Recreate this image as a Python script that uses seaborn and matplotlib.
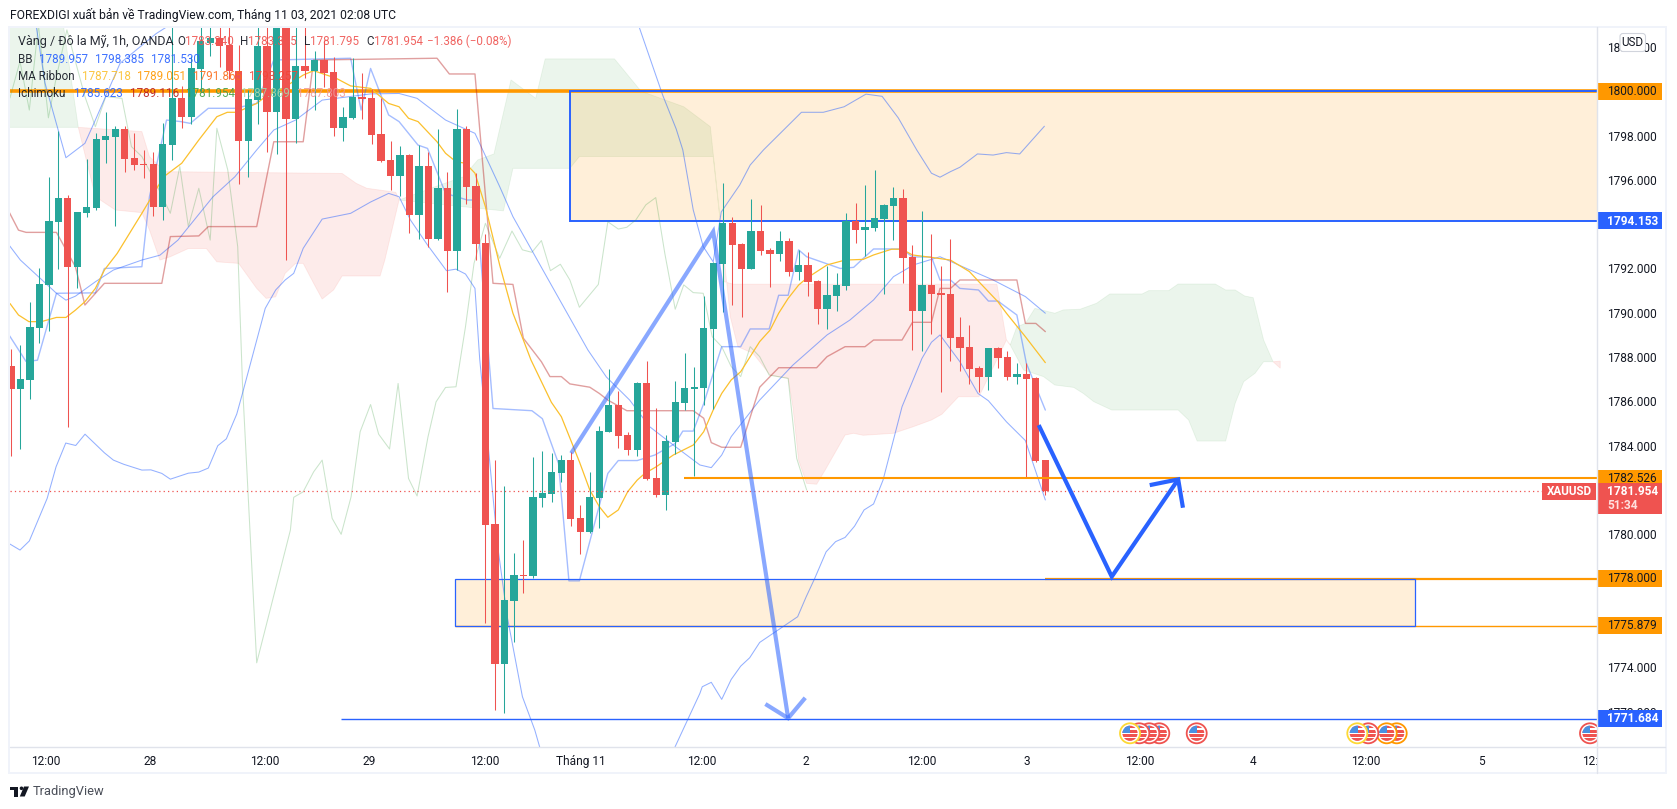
import numpy as np
import pandas as pd
import matplotlib
matplotlib.use('Agg')
import matplotlib.pyplot as plt
from matplotlib.patches import Rectangle, Circle, FancyBboxPatch, Polygon
from matplotlib.transforms import Bbox
import seaborn as sns

# candles, one row per 1h bar
opens = [1787.59,1786.56,1786.96,1789.31,1791.25,1794.10,1795.18,1792.06,1794.50,1794.73,
         1797.80,1797.93,1798.30,1796.99,1796.72,1796.72,1794.77,1797.57,1799.70,1798.84,
         1801.00,1802.19,1802.40,1802.09,1800.91,1797.75,1799.60,1802.04,1799.06,1803.80,
         1798.75,1801.14,1800.91,1801.41,1800.87,1798.34,1798.79,1799.74,1799.70,1798.07,
         1796.90,1796.17,1797.12,1794.41,1796.63,1793.33,1795.63,1792.79,1798.30,1795.72,
         1793.15,1780.47,1774.16,1776.99,1778.18,1778.12,1781.64,1781.82,1782.77,1783.36,
         1780.74,1780.10,1781.64,1784.62,1785.84,1784.48,1783.81,1786.83,1782.54,1781.77,
         1784.17,1785.93,1786.56,1786.60,1789.27,1792.20,1794.05,1793.11,1791.98,1793.69,
         1792.84,1792.66,1793.24,1791.84,1792.16,1791.44,1790.17,1790.76,1791.21,1794.14,
         1793.74,1793.83,1794.23,1794.82,1795.18,1792.52,1790.08,1791.26,1790.89,1790.85,
         1788.91,1788.46,1787.51,1787.10,1788.41,1788.00,1787.10,1787.24,1787.06,1783.35]
highs = [1788.36,1788.54,1790.48,1792.02,1796.13,1798.20,1795.32,1794.55,1796.94,1798.12,
         1799.06,1798.43,1798.43,1798.12,1797.35,1797.26,1798.57,1803.50,1800.24,1801.60,
         1803.50,1803.50,1803.50,1803.50,1802.10,1800.05,1803.50,1803.50,1804.50,1804.50,
         1803.20,1803.20,1801.82,1802.30,1801.55,1799.29,1801.50,1800.82,1800.10,1799.70,
         1797.75,1797.53,1797.15,1797.57,1797.26,1798.30,1796.35,1799.20,1798.43,1796.31,
         1793.55,1783.36,1782.18,1779.16,1779.74,1783.49,1783.76,1783.67,1783.58,1783.73,
         1781.32,1782.81,1784.89,1787.46,1786.47,1784.63,1786.86,1787.82,1785.70,1784.48,
         1786.92,1788.19,1787.55,1790.76,1792.28,1795.86,1794.33,1793.14,1795.14,1794.87,
         1792.93,1793.69,1793.38,1792.84,1792.75,1791.46,1792.11,1791.80,1794.50,1794.96,
         1795.77,1796.45,1794.92,1795.68,1795.59,1793.06,1794.60,1793.56,1792.11,1793.33,
         1789.81,1789.45,1787.60,1788.43,1788.46,1788.28,1787.73,1787.73,1787.08,1783.37]
lows = [1783.55,1783.85,1786.10,1788.63,1789.17,1791.97,1784.84,1791.12,1794.32,1794.64,
        1796.76,1793.92,1796.35,1796.45,1796.08,1794.37,1794.19,1796.90,1798.34,1798.52,
        1800.00,1801.60,1801.10,1800.55,1795.81,1796.13,1798.52,1797.26,1797.17,1792.38,
        1797.66,1800.60,1799.15,1800.20,1797.98,1797.75,1798.75,1798.75,1797.62,1796.80,
        1795.54,1795.27,1793.60,1793.33,1792.97,1793.28,1790.94,1791.93,1794.91,1792.40,
        1776.01,1772.07,1771.95,1775.15,1777.35,1778.01,1781.23,1781.46,1782.36,1780.38,
        1779.11,1780.06,1780.29,1784.60,1783.90,1783.58,1783.53,1782.45,1781.70,1781.10,
        1783.63,1785.61,1782.63,1785.84,1785.66,1790.04,1790.35,1789.81,1791.96,1792.61,
        1791.16,1792.34,1791.66,1791.48,1790.76,1789.49,1789.27,1790.08,1791.03,1793.15,
        1792.56,1793.69,1790.85,1793.29,1791.35,1788.32,1788.28,1789.04,1786.43,1787.82,
        1787.37,1786.79,1786.43,1786.51,1787.51,1786.97,1786.79,1782.56,1783.26,1781.79]
closes = [1786.56,1787.01,1789.36,1791.30,1794.14,1795.18,1792.06,1794.55,1794.77,1797.84,
          1797.98,1798.30,1796.94,1796.67,1796.67,1794.77,1797.62,1799.70,1798.84,1801.05,
          1802.28,1802.40,1802.04,1800.90,1797.75,1799.65,1802.04,1799.06,1803.80,1798.75,
          1801.14,1800.91,1801.41,1800.82,1798.34,1798.84,1799.74,1799.65,1798.02,1796.85,
          1796.17,1797.12,1794.41,1796.63,1793.33,1795.63,1792.79,1798.30,1795.68,1793.10,
          1780.42,1774.16,1777.03,1778.16,1778.13,1781.69,1781.85,1782.81,1783.36,1780.69,
          1780.10,1781.69,1784.66,1785.84,1784.44,1783.81,1786.83,1782.50,1781.77,1784.21,
          1785.97,1786.60,1786.65,1789.31,1792.25,1794.05,1793.06,1791.98,1793.69,1792.79,
          1792.66,1793.24,1791.84,1792.16,1791.39,1790.17,1790.80,1791.26,1794.14,1793.74,
          1793.87,1794.28,1794.87,1795.18,1792.47,1790.08,1791.26,1790.85,1790.80,1788.86,
          1788.41,1787.46,1787.10,1788.41,1787.96,1787.10,1787.24,1787.01,1783.31,1781.95]

bb_upper_x = [-0.5,2.7,3.6,5.8,7.8,8.9,11.5,15.3,16.4,20,40,60,66.2,68.7,70.1,70.8,71.9,72.95,74,74.85,76.8,77.9,79.3,83.3,85.6,87.8,90.1,91.8,93.5,95.45,97,97.9,99,100,101.85,103.5,104.9,106.3,108.9]
bb_upper_y = [1806,1802.84,1800.36,1797,1797.65,1798.7,1801.26,1802.6,1802.9,1804.5,1806,1806,1802.9,1799.8,1798.3,1797.35,1794.64,1792.99,1792.3,1794.55,1795.77,1796.67,1797.35,1799.05,1799.05,1799.3,1799.87,1799.77,1798.8,1797.35,1796.3,1796.12,1796.37,1796.57,1797.17,1797.12,1797.23,1797.17,1798.42]
bb_lower_x = [-0.1,0.96,1.94,3.82,4.76,5.78,6.83,7.81,9.85,10.8,11.9,13.8,14.75,15.9,16.8,18.7,19.8,20.8,21.8,22.7,23.8,24.4,26.8,27.9,28.9,29.8,30.8,32.8,35.8,37.9,39.8,40.9,42.1,43.9,45.9,46.9,47.9,48.9,49.4,50.3,51.3,52.3,53.9,55.2,58,64,69,72.6,72.85,73.8,74.9,75.9,76.9,77.85,78.9,82.9,83.8,84.7,85.9,86.9,87.9,88.9,89.9,90.9,91.9,93.9,96,97,97.9,100,101.9,103,104.9,106.9,109]
bb_lower_y = [1779.56,1779.29,1779.7,1781.62,1783.05,1784.12,1784.01,1784.52,1783.68,1783.35,1783.16,1782.9,1782.91,1782.75,1782.49,1782.76,1782.81,1782.99,1784,1784.31,1785.43,1786.36,1790.2,1791.03,1791.48,1791.78,1792.91,1794.23,1794.49,1795,1795.39,1795.24,1794.19,1793.06,1791.9,1791.97,1791.75,1791.1,1787.9,1783.96,1779.44,1776.28,1772.67,1771.17,1767,1766,1769.5,1772.82,1773.12,1773.32,1772.55,1773.45,1774.05,1774.43,1775.12,1776.28,1777.18,1778.01,1779.21,1779.67,1779.86,1780.37,1781.1,1781.37,1782.45,1785.76,1787.94,1788.67,1789,1787.79,1786.36,1786.03,1785.08,1784.23,1781.55]
bb_basis_x = [-0.2,1,4.8,5.8,6.8,8.9,10.8,13.8,15.7,17.6,21.3,23.6,25.9,27.7,30,32.8,37.9,40.9,42.8,45.8,47.7,48.9,51.5,52.9,56.95,60.8,62.75,65.2,67.3,69.8,72.6,73.8,74.9,75.9,78.9,82.4,86,88.4,90.9,93,95.1,97.9,100.7,103.5,106.9,109]
bb_basis_y = [1793.06,1792.38,1790.88,1790.57,1790.75,1791.4,1791.93,1792.38,1792.6,1793.28,1795.24,1796.14,1797.35,1798.25,1798.7,1799.6,1799.88,1799.9,1799.68,1798.7,1798.33,1798.1,1795.7,1794.34,1791.25,1788.32,1787.1,1786.06,1784.86,1784.03,1783.13,1783.01,1783.58,1784.41,1786.06,1787.64,1789,1789.67,1790.58,1791.63,1792.16,1792.53,1792,1791.48,1790.73,1789.98]
conv_x = [-0.2,1.6,2.8,4.8,8.9,9.85,13.8,14.6,16.4,17.9,18.9,20.8,23.6,25.9,27.7,35.8,36.9,37.9,39.8,40.9,42.9,43.9,45.8,48.1,49,50.8,54.9,56,57.7,58.8,59.9,62.9,64,66,67.85,70,70.8,71.9,73,74.9,76.9,77.9,79.9,80.9,81.9,83,83.85,87.4,88.8,90,90.9,93.9,95,97,97.9,99,100,101.96,103,104,106,107,109]
conv_y = [1789,1787.8,1787.86,1790.88,1790.9,1792,1792.08,1795.24,1798.7,1798.63,1798.55,1799.23,1799.23,1799.45,1801.41,1801.49,1799.15,1801.03,1798.93,1798.63,1797.57,1797.42,1795.39,1795.09,1795.09,1785.68,1785.58,1785.22,1783.2,1777.9,1777.9,1782.75,1783.33,1783.33,1783.58,1784.1,1784.66,1784.66,1785.9,1788.47,1788.47,1789.27,1789.27,1790.79,1790.79,1792.84,1792.53,1792,1792.05,1792.53,1792.88,1792.88,1792.52,1792.52,1791.48,1791.48,1791.1,1791.03,1790.53,1790.53,1789.9,1787.72,1785.61]
base_x = [-0.2,0.8,1.6,4.8,6.8,7.8,9.85,15.9,16.8,19.8,20.8,25.9,27.7,30.8,31.9,44.9,46.2,48.9,50.8,52.9,54,55.9,56.8,58,58.9,61,62,62.9,64.9,71.9,73,73.8,74.9,76.9,78.9,80.9,84.9,86,87.9,90,90.9,93.9,95,97,97.9,99,100,106,106.9,108,109]
base_y = [1794.56,1793.73,1793.63,1793.63,1792.08,1790.35,1791.33,1791.33,1793.44,1793.47,1793.89,1793.89,1797.72,1797.72,1801.41,1801.49,1800.78,1800.78,1791.33,1791.28,1788.85,1787.79,1787.12,1787.12,1786.79,1786.64,1786.36,1786.06,1785.58,1785.58,1785.24,1784.14,1783.93,1783.93,1786.64,1787.52,1787.52,1788.02,1788.47,1788.47,1788.77,1788.77,1789.57,1789.57,1791.1,1791.1,1791.48,1791.48,1789.52,1789.52,1789.15]
ma_x = [-0.1,0.8,1.9,3.2,4.8,5.8,6.8,7.8,8.9,9.85,11.2,13.8,16.1,18,19.8,21.7,22.8,23.8,25.9,26.8,28.9,30.8,31.9,34.3,35.8,37.9,39.8,40.9,41.9,42.9,44.9,45.8,46.9,47.9,48.9,50,51.5,52.9,54,54.8,56.95,58,59.9,61,62,62.9,64,65,66,66.8,68,69.8,71.9,73,74,74.9,75.9,76.9,77.9,78.9,80,80.9,81.9,83,83.85,86,87.9,89.8,90.9,92.8,93.9,95,97,99,101,102,104,104.9,106.9,109]
ma_y = [1790.42,1789.9,1789.6,1789.6,1789.79,1789.79,1790.12,1790.5,1791.1,1791.93,1792.68,1794.49,1796.14,1796.75,1797.8,1798.85,1799.05,1799.05,1799.45,1799.75,1800.2,1800.73,1800.93,1800.58,1800.24,1800.13,1799.45,1799.3,1798.78,1798.63,1797.72,1797.2,1796.82,1796.75,1796.3,1794.79,1792.16,1789.98,1788.77,1787.87,1785.96,1785.31,1783.28,1782,1781.25,1780.77,1781.1,1781.93,1782.45,1782.75,1783.05,1783.58,1784.03,1784.63,1785.61,1786.36,1786.97,1787.34,1788.02,1788.7,1789.22,1789.98,1790.65,1791.25,1791.56,1792.16,1792.38,1792.41,1792.61,1792.87,1792.87,1792.61,1792.5,1792.38,1791.86,1791.4,1790.5,1789.98,1788.92,1787.75]
lag_x = [-0.1,0.96,1.94,2.9,3.95,4.8,5.9,7.8,8.9,10,11.7,12.7,13.8,14.75,16.8,17.8,18.7,19.8,21,21.7,22.85,23.9,24.4,25.9,29.45,29.8,30.8,31.9,32.8,33.85,34.8,35.85,36.8,37.9,38.75,39.9,40.8,41.9,42.8,43.95,44.8,45.8,46.9,47.9,48.8,50,51.5,52.8,53.9,54.9,55.9,56.85,57.9,58.9,59.9,61.9,62.9,64,64.9,65.85,66.9,67.95,68.9,70,70.9,71.9,72.95,73.9,74.9,75.9,76.9,77.9,78.9,79.9,81.9,82.8,83.85]
lag_y = [1799.7,1801.35,1799.15,1803,1798.8,1800.66,1802.77,1799.76,1798.4,1799.76,1799.68,1797.5,1797.05,1796.3,1794.49,1796.6,1793.89,1795.62,1793.28,1798.33,1796.45,1792.98,1786.81,1774.2,1780.19,1781.67,1781.92,1782.82,1783.35,1780.72,1780,1781.7,1784.63,1785.86,1784.52,1783.85,1786.81,1782.52,1781.73,1784.4,1785.98,1786.63,1786.66,1789.37,1792.23,1794.04,1792.46,1793.69,1792.84,1792.73,1793.26,1791.9,1792.19,1791.48,1790.25,1791.28,1794.11,1793.78,1793.86,1794.19,1794.87,1795.2,1792.69,1790.16,1791.26,1790.91,1790.88,1788.92,1788.47,1787.57,1787.12,1788.47,1788.02,1787.19,1787.04,1783.43,1782]

# ichimoku cloud pieces: upper edge then lower edge
cloud_a_top = ([-1,5.35,7.1], [1803.5,1803.5,1798.37])
cloud_a_low = ([-1,7.1], [1798.37,1798.37])
cloud_b_top = ([7.1,13.8,14.6,16.25,34.9,36.4,37.5,40.55,40.9], [1798.37,1798.18,1797.05,1796.37,1796.29,1795.84,1795.62,1795.44,1795.09])
cloud_b_low = ([7.1,8.9,11,13.8,14.6,15.7,16.8,18.7,20.6,21.7,24,25.9,26.9,27.9,28.9,30,30.8,31.9,32.8,34,34.9,38.9,39.4,40.9], [1798.37,1795.24,1794.64,1794.52,1793.74,1792.38,1792.53,1792.9,1792.9,1792.3,1792.23,1791.1,1790.65,1790.72,1791.78,1792.23,1792.23,1791.33,1790.62,1791.03,1791.66,1791.66,1792.38,1795.09])
cloud_c_top = ([40.9,44.7,47.7,49.2,50.9,52.7,55.3,56.3,63.6,66.4,70.9,73.7,74.7], [1795.09,1795.69,1796.14,1796.9,1797.17,1800.51,1799.68,1801.46,1801.46,1800,1799.3,1798.4,1794.34])
cloud_c_low = ([40.9,51.9,52.9,58.9,59.9,74,74.7], [1795.09,1794.6,1796.52,1796.52,1797.05,1797.05,1794.34])
cloud_d_top = ([74.7,75.1,76.1,103.9,104.9,105.3], [1794.34,1791.41,1791.29,1791.29,1788.77,1788.55])
cloud_d_low = ([74.7,75.8,76.6,78.2,80,81.9,82.4,83,83.85,84.9,85.8,87.9,88.8,89.8,93,95.1,97,98.1,99.85,102,104.9,105.3], [1794.34,1789.83,1788.47,1788.17,1787.19,1787.04,1785.76,1783.35,1782.3,1782.26,1782.9,1784.48,1784.56,1784.47,1784.56,1784.86,1785.16,1785.42,1786.21,1786.21,1788.77,1788.55])
cloud_e_top = ([105.3,106,106.9,107.9,110,110.9,112.66,114.4,115.8,119.2,119.9,122,123,126.9,128,129,130,130.9,132,133], [1788.55,1789.37,1789.52,1790.2,1789.98,1790.13,1790.16,1790.43,1790.85,1790.85,1791,1791,1791.3,1791.3,1791.03,1791.03,1790.76,1790.68,1788.77,1787.79])
cloud_e_low = ([105.3,106.7,108.8,110,112,113,114.1,116,123,124.1,125,128,129,129.9,131.1,132,133], [1788.55,1787.42,1787.12,1786.74,1786.63,1786.36,1785.99,1785.61,1785.61,1785.16,1784.21,1784.21,1785.91,1786.89,1787.27,1787.79,1787.79])
cloud_f_top = ([133,133.75], [1787.79,1787.82])
cloud_f_low = ([133,133.75], [1787.79,1787.5])

# hand drawn levels and arrows
arrow_light_x = [59.04,74,81.9]
arrow_light_y = [1783.66,1793.66,1771.7]
head_light_x = [79.5,81.9,83.7]
head_light_y = [1772.34,1771.7,1772.62]
arrow_dark_x = [108.3,116,123]
arrow_dark_y = [1784.93,1778.09,1782.48]
head_dark_x = [120,123,123.5]
head_dark_y = [1782.22,1782.48,1781.2]
last_price = 1781.954

# axis text
tick_bars = [3.7,14.7,26.8,37.8,49.96,60,72.8,83.8,96,107,118.9,130.9,142.8,155,166.4]
tick_labels = ['12:00','28','12:00','29','12:00','Tháng 11','12:00','2','12:00','3','12:00','4','12:00','5','12:']
price_ticks = [1802,1798,1796,1792,1790,1788,1786,1784,1780,1774,1772]
title_text = 'FOREXDIGI xuất bản về TradingView.com, Tháng 11 03, 2021 02:08 UTC'
level_tags = [(1800.000,'#ff9800','#131722'),(1794.153,'#2962ff','white'),(1782.526,'#ff9800','#131722'),
              (1778.000,'#ff9800','#131722'),(1775.879,'#ff9800','#131722'),(1771.684,'#2962ff','white')]
legend_rows = [
    [('Vàng / Đô la Mỹ, 1h, OANDA',18,'#131722'),('O',177.5,'#131722'),('1783.340',185,'#ef5350'),('H',240,'#131722'),('1783.345',248.5,'#ef5350'),
     ('L',303.6,'#131722'),('1781.795',310,'#ef5350'),('C',366,'#131722'),('1781.954',374,'#ef5350'),('−1.386 (−0.08%)',426.8,'#ef5350')],
    [('BB',18,'#131722'),('1789.957',39.3,'#2962ff'),('1798.385',95,'#2962ff'),('1781.530',150.7,'#2962ff')],
    [('MA Ribbon',18,'#131722'),('1787.718',82,'#fbc02d'),('1789.051',137.5,'#ff9800'),('1791.865',193,'#fb6d1b'),('1793.257',249,'#f44336')],
    [('Ichimoku',18,'#131722'),('1785.623',74,'#2962ff'),('1789.116',129.6,'#b71c1c'),('1781.954',185.7,'#43a047'),('1787.869',241.4,'#a5d6a7'),('1787.803',297,'#ef9a9a')],
]
event_x = [1130,1139.3,1149.3,1159.3,1196.7,1357.3,1368.3,1386.7,1396.7,1590]
event_ring = ['#fdd835','#ef5350','#ef5350','#ef5350','#ef5350','#fdd835','#ef5350','#ff9800','#ff9800','#ef5350']

sns.set_theme(style='white')
plt.rcParams['font.family'] = ['Roboto', 'DejaVu Sans']

fig = plt.figure(figsize=(16.77, 8.09), dpi=100, facecolor='white')
ax = fig.add_axes([10/1677, (809-747)/809, (1597-10)/1677, 720/809])
ax.set_xlim(-0.095, 167.13)
ax.set_ylim(1770.40, 1802.90)

GREEN, RED = '#26a69a', '#ef5350'
BLUE = '#2962ff'
ORANGE = '#ff9800'

def cloud(top, low, color):
    xs = list(top[0]) + list(low[0])[::-1]
    ys = list(top[1]) + list(low[1])[::-1]
    ax.fill(xs, ys, facecolor=color, alpha=0.1, edgecolor=color, linewidth=0.6, zorder=1)

cloud(cloud_a_top, cloud_a_low, '#43a047')
cloud(cloud_b_top, cloud_b_low, '#f44336')
cloud(cloud_c_top, cloud_c_low, '#43a047')
cloud(cloud_d_top, cloud_d_low, '#f44336')
cloud(cloud_e_top, cloud_e_low, '#43a047')
cloud(cloud_f_top, cloud_f_low, '#f44336')

# zones
ax.hlines(1800.0, -1, 168, color=ORANGE, linewidth=2.6, zorder=2)
ax.add_patch(Rectangle((58.9, 1794.153), 110, 1800.0-1794.153, facecolor=(1, 0.596, 0, 0.15), edgecolor=BLUE, linewidth=1.4, zorder=2))
ax.hlines(1778.0, 109, 168, color=ORANGE, linewidth=1.6, zorder=2)
ax.hlines(1775.879, 46.8, 168, color=ORANGE, linewidth=1.0, zorder=2)
ax.add_patch(Rectangle((46.8, 1775.879), 101.2, 1778.0-1775.879, facecolor=(1, 0.596, 0, 0.15), edgecolor=BLUE, linewidth=0.9, zorder=2.1))

def indicator(x, y, color, alpha, lw=0.75):
    sns.lineplot(x=x, y=y, ax=ax, color=color, alpha=alpha, linewidth=lw,
                 estimator=None, sort=False, legend=False, zorder=3)

indicator(lag_x, lag_y, '#43a047', 0.28)
indicator(bb_upper_x, bb_upper_y, BLUE, 0.5)
indicator(bb_lower_x, bb_lower_y, BLUE, 0.5)
indicator(bb_basis_x, bb_basis_y, BLUE, 0.5)
indicator(conv_x, conv_y, BLUE, 0.42, 1.0)
indicator(base_x, base_y, '#b71c1c', 0.42, 1.0)
indicator(ma_x, ma_y, '#fbc02d', 1.0, 0.9)

df = pd.DataFrame({'open': opens, 'high': highs, 'low': lows, 'close': closes})
df['bar'] = np.arange(len(df))
df['color'] = np.where(df['close'] >= df['open'], GREEN, RED)
ax.vlines(df['bar'], df['low'], df['high'], colors=df['color'], linewidth=0.75, zorder=4)
ax.bar(df['bar'], (df['close']-df['open']).abs().clip(lower=0.04), bottom=df[['open', 'close']].min(axis=1),
       width=0.77, color=df['color'], linewidth=0, zorder=5)

# levels on top of the candles
ax.hlines(1782.526, 70.9, 168, color=ORANGE, linewidth=1.5, zorder=6)
ax.hlines(1771.684, 34.8, 168, color=BLUE, linewidth=1.0, zorder=6)
ax.axhline(last_price, color=RED, linewidth=0.9, linestyle=(0, (1, 2.5)), zorder=6)

def drawn(x, y, color, alpha):
    sns.lineplot(x=x, y=y, ax=ax, color=color, alpha=alpha, linewidth=3.0, estimator=None, sort=False,
                 legend=False, zorder=7, solid_joinstyle='miter', solid_capstyle='butt')

drawn(arrow_light_x, arrow_light_y, BLUE, 0.55)
drawn(head_light_x, head_light_y, BLUE, 0.55)
drawn(arrow_dark_x, arrow_dark_y, BLUE, 1.0)
drawn(head_dark_x, head_dark_y, BLUE, 1.0)

ax.set_xticks(tick_bars)
ax.set_xticklabels(tick_labels, fontsize=8.6, color='#131722')
ax.set_yticks(price_ticks)
ax.set_yticklabels([f'{p:.3f}' for p in price_ticks], fontsize=8.6, color='#131722')
ax.yaxis.tick_right()
ax.tick_params(axis='x', length=0, pad=6)
ax.tick_params(axis='y', length=0, pad=7)
ax.set_xlabel('')
ax.set_ylabel('')
for side in ax.spines:
    ax.spines[side].set_visible(False)

# page furniture, in image pixels
ov = fig.add_axes([0, 0, 1, 1], facecolor='none')
ov.set_xlim(0, 1677)
ov.set_ylim(809, 0)
ov.axis('off')

def to_px(p):
    return 27 + (1802.90 - p) / (1802.90 - 1770.40) * 720

for (x0, y0, w, h) in [(8.5, 25.5, 1659, 2.5), (8.5, 771.5, 1659, 2.5), (8.5, 25.5, 2, 748), (1665.5, 25.5, 2, 748)]:
    ov.add_patch(Rectangle((x0, y0), w, h, facecolor='#f0f3fa', linewidth=0))
ov.plot([1597, 1597], [27, 773], color='#e0e3eb', linewidth=1.0)
ov.plot([10, 1665], [747, 747], color='#e0e3eb', linewidth=1.0)

ov.text(10, 15, title_text, fontsize=8.7, color='#131722', va='center', ha='left')
for row, y in zip(legend_rows, [41.7, 59, 76, 93]):
    for txt, x, color in row:
        size = 9.0 if txt.startswith('Vàng') else 8.4
        ov.text(x, y, txt, fontsize=size, color=color, va='center', ha='left', alpha=0.9)

# economic event flags
limit = Bbox.from_extents(0, 0, 1597, 809)
for x, ring in reversed(list(zip(event_x, event_ring))):
    y = 733.3
    parts = [Circle((x, y), 10, facecolor='white', edgecolor=ring, linewidth=1.3)]
    inner = Circle((x, y), 7.6, transform=ov.transData)
    parts.append(Rectangle((x-8, y-8), 16, 16, facecolor='white', linewidth=0))
    parts.append(Rectangle((x-8, y+0.6), 16, 2.6, facecolor='#ef5350', linewidth=0))
    parts.append(Rectangle((x-8, y+5), 16, 3, facecolor='#ef5350', linewidth=0))
    parts.append(Rectangle((x-8, y-8), 16, 3, facecolor='#ef5350', linewidth=0))
    parts.append(Rectangle((x-8, y-3), 16, 2.2, facecolor='#ef5350', linewidth=0))
    parts.append(Rectangle((x-8, y-8), 8.5, 8, facecolor='#4a90e2', linewidth=0))
    for k, part in enumerate(parts):
        ov.add_patch(part)
        if k > 0:
            part.set_clip_path(inner)
        part.set_clip_box(limit)

# price scale tags
ov.add_patch(FancyBboxPatch((1620, 33.5), 25.5, 18, boxstyle='round,pad=0,rounding_size=3', facecolor='white', edgecolor='#d1d4dc', linewidth=0.8))
ov.text(1632.7, 42.5, 'USD', fontsize=8.4, color='#131722', ha='center', va='center')
for price, bg, fg in level_tags:
    y = to_px(price)
    ov.add_patch(Rectangle((1597, y-8.4), 65, 16.8, facecolor=bg, linewidth=0))
    ov.text(1607, y+0.3, f'{price:.3f}', fontsize=8.6, color=fg, va='center', ha='left',
            fontweight='bold' if fg == 'white' else 'normal')
ov.add_patch(Rectangle((1597, 482.7), 65, 31.3, facecolor=RED, linewidth=0))
ov.text(1607, 491.7, f'{last_price:.3f}', fontsize=8.6, color='white', va='center', ha='left', fontweight='bold')
ov.text(1607, 505.7, '51:34', fontsize=8.6, color='#ffe0de', va='center', ha='left', fontweight='bold')
ov.add_patch(Rectangle((1542.3, 483), 53.7, 17, facecolor=RED, linewidth=0))
ov.text(1569, 491.7, 'XAUUSD', fontsize=8.4, color='white', va='center', ha='center', fontweight='bold')

# TradingView mark
ov.add_patch(Rectangle((10, 786.5), 8.5, 3.4, facecolor='#131722', linewidth=0))
ov.add_patch(Rectangle((14, 786.5), 4.5, 10, facecolor='#131722', linewidth=0))
ov.add_patch(Circle((21.5, 788.3), 1.8, facecolor='#131722', linewidth=0))
ov.add_patch(Polygon([(24, 786.5), (29, 786.5), (24.7, 796.5), (19.8, 796.5)], closed=True, facecolor='#131722', linewidth=0))
ov.text(33, 791.8, 'TradingView', fontsize=9.3, color='#4a4e58', va='center', ha='left')

fig.savefig('out.png', dpi=100, facecolor='white')
print('saved out.png')
